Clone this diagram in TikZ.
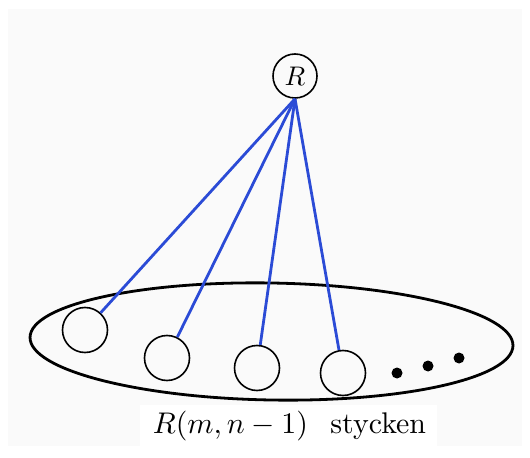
\documentclass[tikz,border=0pt]{standalone}
\usepackage{graphicx}
\usetikzlibrary{calc,shapes.geometric}
\definecolor{edgeblue}{HTML}{2B4BD6}
\definecolor{bggray}{HTML}{FAFAFA}
\begin{document}
\begin{tikzpicture}[x=1bp,y=-1bp,
  small/.style={circle,draw=black,line width=1.6bp,minimum size=45bp,inner sep=0pt},
  edge/.style={draw=edgeblue,line width=2.8bp},
  dot/.style={circle,fill=black,inner sep=0pt,minimum size=11bp}]
\useasboundingbox (0,0) rectangle (530,458);
\fill[white] (0,0) rectangle (530,458);
\fill[bggray] (8,9) rectangle (522,446);
\fill[white] (140,405) rectangle (437,446);
\node[circle,draw=black,line width=1.6bp,minimum size=44bp,inner sep=0pt] (R) at (295,76) {\scalebox{2.7}{$R$}};
\node[draw=black,line width=2.8bp,ellipse,minimum width=483bp,minimum height=117bp,inner sep=0pt,rotate=-1] (big) at (271.5,341.5) {};
\node[small] (c1) at (85,330) {};
\node[small] (c2) at (167,358) {};
\node[small] (c3) at (257,368) {};
\node[small] (c4) at (343,373) {};
\node[dot] (d1) at (397,373) {};
\node[dot] (d2) at (428,366) {};
\node[dot] (d3) at (459,358) {};
\foreach \c in {c1,c2,c3,c4} \draw[edge] (R.south) -- (\c);
\node (lbl) at (289.5,426) {\scalebox{3.0}{$R(m,n-1)$\hspace{0.75em}stycken}};
\end{tikzpicture}
\end{document}
